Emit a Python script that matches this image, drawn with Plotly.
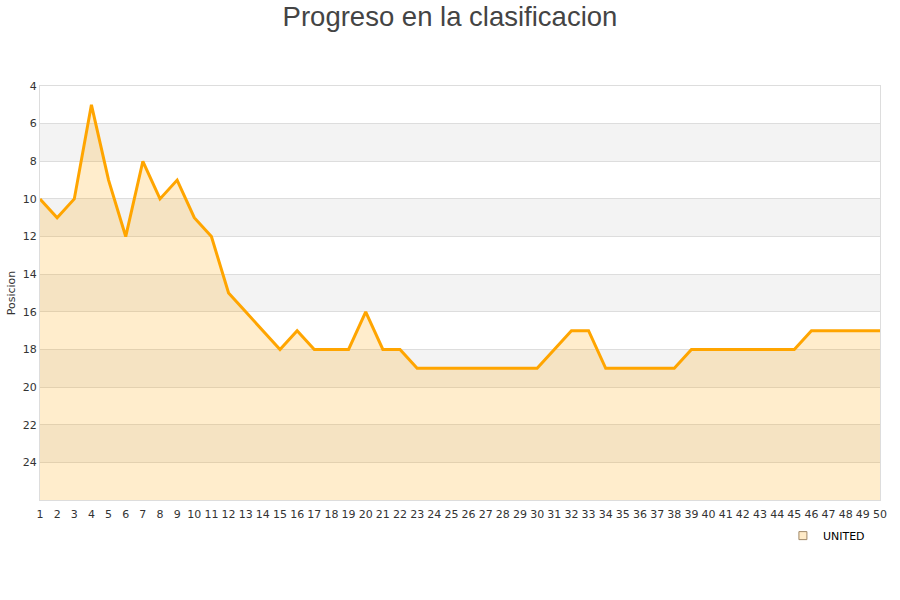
import plotly.graph_objects as go

jornadas = list(range(1, 51))
posiciones = [10, 11, 10, 5, 9, 12, 8, 10, 9, 11,
              12, 15, 16, 17, 18, 17, 18, 18, 18, 16,
              18, 18, 19, 19, 19, 19, 19, 19, 19, 19,
              18, 17, 17, 19, 19, 19, 19, 19, 18, 18,
              18, 18, 18, 18, 18, 17, 17, 17, 17, 17]
equipo = "UNITED"
y_ticks = [4, 6, 8, 10, 12, 14, 16, 18, 20, 22, 24]
bandas = [(6, 8), (10, 12), (14, 16), (18, 20), (22, 24)]
y_min, y_max = 4, 26

fig = go.Figure()
fig.add_trace(go.Scatter(x=jornadas, y=[y_max] * len(jornadas), mode="lines",
                         line=dict(width=0), showlegend=False, hoverinfo="skip"))
fig.add_trace(go.Scatter(x=jornadas, y=posiciones, mode="lines",
                         line=dict(color="#FFA500", width=3),
                         fill="tonexty", fillcolor="rgba(255,165,0,0.2)",
                         showlegend=False, name=equipo))
fig.add_trace(go.Scatter(x=[None], y=[None], mode="markers", name=equipo,
                         marker=dict(symbol="square", size=8, color="#FFEBC8",
                                     line=dict(color="#A08868", width=1))))

for a, b in bandas:
    fig.add_shape(type="rect", xref="paper", yref="y", x0=0, x1=1, y0=a, y1=b,
                  fillcolor="#F3F3F3", line=dict(width=0), layer="below")

fig.update_layout(
    width=900, height=600,
    paper_bgcolor="white", plot_bgcolor="white",
    margin=dict(l=40, r=20, t=86, b=100, autoexpand=False),
    title=dict(text="Progreso en la clasificacion", x=0.5, xanchor="center",
               y=1 - 16 / 600, yanchor="middle", automargin=False,
               font=dict(family="Liberation Sans, Arial", size=27.5, color="#444")),
    font=dict(family="DejaVu Sans", size=11, color="#333"),
    legend=dict(orientation="h", x=0.988, xanchor="right", y=-0.051, yanchor="top",
                font=dict(family="DejaVu Sans", size=11, color="#000")),
    xaxis=dict(range=[1, 50], tickmode="array", tickvals=jornadas,
               ticktext=[str(j) for j in jornadas], showgrid=False, automargin=False,
               showline=True, linecolor="#DDDDDD", mirror=True, zeroline=False,
               ticks="", ticklabelstandoff=4, tickfont=dict(size=11, color="#333")),
    yaxis=dict(range=[y_max, y_min], tickmode="array", tickvals=y_ticks, automargin=False,
               showgrid=True, gridcolor="#DDDDDD", gridwidth=1,
               showline=True, linecolor="#DDDDDD", mirror=True, zeroline=False,
               ticks="", tickfont=dict(size=11, color="#333"),
               title=dict(text="Posicion", font=dict(size=11, color="#333"), standoff=4)),
)

fig.write_html("out.html", config={"displayModeBar": False},
               post_script="document.body.style.margin='0';document.body.style.overflow='hidden';")
